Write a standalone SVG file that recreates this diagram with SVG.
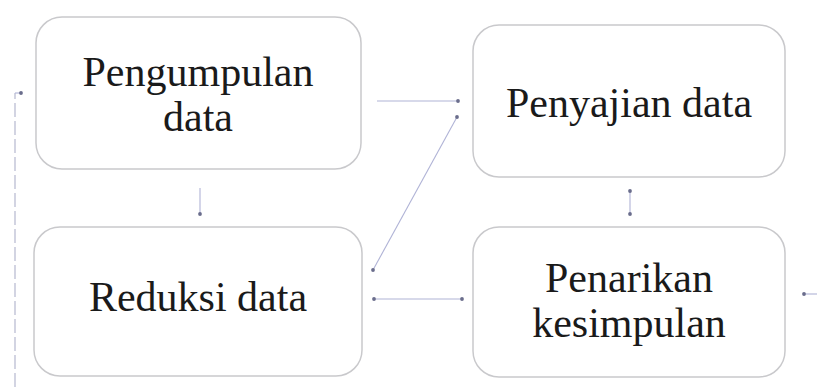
<svg xmlns="http://www.w3.org/2000/svg" width="817" height="387" viewBox="0 0 817 387">
<style>
.box{fill:#fff;stroke:#c9c9cc;stroke-width:1.5}
.t{font-family:"Liberation Serif","Times New Roman",serif;font-size:42px;fill:#1a1a1a;text-anchor:middle}
.c{fill:none;stroke:#b0b3d6;stroke-width:1.1}
.d{fill:none;stroke:#c8cadb;stroke-width:1.6;stroke-dasharray:14 4}
</style>
<defs>
<marker id="dot" markerWidth="6" markerHeight="6" refX="3" refY="3" markerUnits="userSpaceOnUse"><circle cx="3" cy="3" r="1.9" fill="#6a6d8c"/></marker>
</defs>
<rect width="817" height="387" fill="#fff"/>
<g id="n1"><rect class="box" x="36" y="17" width="325" height="152" rx="26"/><text class="t" x="198" y="86">Pengumpulan</text><text class="t" x="198" y="131">data</text></g>
<g id="n2"><rect class="box" x="34" y="227" width="328" height="149" rx="26"/><text class="t" x="198" y="311">Reduksi data</text></g>
<g id="n3"><rect class="box" x="473" y="25" width="312" height="152" rx="26"/><text class="t" x="629" y="117">Penyajian data</text></g>
<g id="n4"><rect class="box" x="473" y="227" width="312" height="150" rx="26"/><text class="t" x="629" y="292">Penarikan</text><text class="t" x="629" y="337">kesimpulan</text></g>
<g id="connectors">
<line class="c" x1="377" y1="101" x2="458" y2="101" marker-end="url(#dot)"/>
<line class="c" x1="373" y1="270" x2="457" y2="117" marker-start="url(#dot)" marker-end="url(#dot)"/>
<line class="c" x1="630" y1="191" x2="630" y2="214" marker-start="url(#dot)" marker-end="url(#dot)"/>
<line class="c" x1="200" y1="188" x2="200" y2="214" marker-end="url(#dot)"/>
<line class="c" x1="374" y1="299" x2="462" y2="299" marker-start="url(#dot)" marker-end="url(#dot)"/>
<line class="c" x1="817" y1="294" x2="804" y2="294" marker-end="url(#dot)"/>
<path class="d" d="M15 387 V93"/>
<line class="c" x1="15" y1="93" x2="21" y2="93" marker-end="url(#dot)"/>
</g>
</svg>
